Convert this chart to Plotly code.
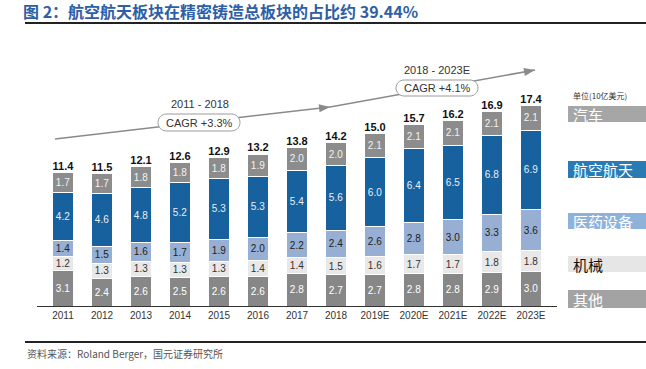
import plotly.graph_objects as go

categories = ["2011", "2012", "2013", "2014", "2015", "2016", "2017", "2018",
              "2019E", "2020E", "2021E", "2022E", "2023E"]
other = [3.1, 2.4, 2.6, 2.5, 2.6, 2.6, 2.8, 2.7, 2.7, 2.8, 2.8, 2.9, 3.0]
machinery = [1.2, 1.3, 1.3, 1.3, 1.3, 1.4, 1.4, 1.5, 1.6, 1.7, 1.7, 1.8, 1.8]
medical = [1.4, 1.5, 1.6, 1.7, 1.9, 2.0, 2.2, 2.4, 2.6, 2.8, 3.0, 3.3, 3.6]
aerospace = [4.2, 4.6, 4.8, 5.2, 5.3, 5.3, 5.4, 5.6, 6.0, 6.4, 6.5, 6.8, 6.9]
auto = [1.7, 1.7, 1.8, 1.8, 1.8, 1.9, 2.0, 2.0, 2.1, 2.1, 2.1, 2.1, 2.1]
totals = [11.4, 11.5, 12.1, 12.6, 12.9, 13.2, 13.8, 14.2, 15.0, 15.7, 16.2, 16.9, 17.4]

series_names = ["其他", "机械", "医药设备", "航空航天", "汽车"]
series_values = [other, machinery, medical, aerospace, auto]

# Layout geometry (pixels)
W_PX, H_PX = 646, 369
L, R, T, B = 37, 557, 74, 306
PW, PH = R - L, B - T

def px(x):
    return (x - L) / PW

def py(y):
    return (B - y) / PH

FONT = "Liberation Sans, Arial, Noto Sans CJK SC"
CJK = "Noto Sans CJK SC, Liberation Sans"

bar_colors = ["#878787", "#e8e8e8", "#96afd3", "#17629e", "#8c8c8c"]
text_colors = ["#ffffff", "#333333", "#222222", "#e8eef6", "#f2f2f2"]

fig = go.Figure()
for name, vals, c, tc in zip(series_names, series_values, bar_colors, text_colors):
    fig.add_trace(go.Bar(
        x=categories, y=vals, name=name,
        marker=dict(color=c, line=dict(color="white", width=1)),
        width=0.56,
        text=[f"{v:.1f}" for v in vals],
        textposition="inside", insidetextanchor="middle",
        textangle=0, constraintext="none",
        textfont=dict(family=FONT, size=10, color=tc),
        hoverinfo="skip",
    ))

stack_tops = [sum(s[i] for s in series_values) for i in range(len(categories))]
fig.add_trace(go.Scatter(
    x=categories, y=stack_tops, mode="text",
    text=[f"<b>{v:.1f}</b>" for v in totals],
    textposition="top center",
    textfont=dict(family=FONT, size=11, color="#111111"),
    hoverinfo="skip", cliponaxis=False,
))

shapes = []
annotations = []

# Title and rules
annotations.append(dict(xref="paper", yref="paper", x=px(21), y=py(11),
    xanchor="left", yanchor="middle", showarrow=False,
    text="<b>图 2：航空航天板块在精密铸造总板块的占比约 39.44%</b>",
    font=dict(family=CJK, size=16, color="#2d5ea6")))
shapes.append(dict(type="line", xref="paper", yref="paper",
    x0=px(25), x1=px(660), y0=py(23), y1=py(23),
    line=dict(color="#222222", width=2)))
shapes.append(dict(type="line", xref="paper", yref="paper",
    x0=px(25), x1=px(660), y0=py(342), y1=py(342),
    line=dict(color="#222222", width=2)))
annotations.append(dict(xref="paper", yref="paper", x=px(25), y=py(353),
    xanchor="left", yanchor="middle", showarrow=False,
    text="资料来源：Roland Berger，国元证券研究所",
    font=dict(family=CJK, size=10, color="#555555")))

# Growth arrows
ARROW = "#8a8a8a"
def arrow(x0, y0, x1, y1):
    shapes.append(dict(type="line", xref="paper", yref="paper",
        x0=px(x0), y0=py(y0), x1=px(x1), y1=py(y1),
        line=dict(color=ARROW, width=1.5)))
    dx, dy = x1 - x0, y1 - y0
    n = (dx * dx + dy * dy) ** 0.5
    ux, uy = dx / n, dy / n
    bx, by = x1 - 11 * ux, y1 - 11 * uy
    nx, ny = -uy, ux
    pts = [(x1, y1), (bx + 4 * nx, by + 4 * ny), (bx - 4 * nx, by - 4 * ny)]
    path = "M {} {} L {} {} L {} {} Z".format(*[v for p in pts for v in (px(p[0]), py(p[1]))])
    shapes.append(dict(type="path", xref="paper", yref="paper", path=path,
        fillcolor=ARROW, line=dict(color=ARROW, width=0)))

arrow(55, 139, 330, 107)
arrow(330, 107, 535, 70)

def capsule(x0, y0, x1, y1):
    r = (y1 - y0) / 2
    k = 0.5523 * r
    p = "M {} {} ".format(px(x0 + r), py(y0))
    p += "L {} {} ".format(px(x1 - r), py(y0))
    p += "C {} {} {} {} {} {} ".format(px(x1 - r + k), py(y0), px(x1), py(y0 + r - k), px(x1), py(y0 + r))
    p += "C {} {} {} {} {} {} ".format(px(x1), py(y0 + r + k), px(x1 - r + k), py(y1), px(x1 - r), py(y1))
    p += "L {} {} ".format(px(x0 + r), py(y1))
    p += "C {} {} {} {} {} {} ".format(px(x0 + r - k), py(y1), px(x0), py(y1 - r + k), px(x0), py(y1 - r))
    p += "C {} {} {} {} {} {} Z".format(px(x0), py(y0 + r - k), px(x0 + r - k), py(y0), px(x0 + r), py(y0))
    shapes.append(dict(type="path", xref="paper", yref="paper", path=p,
        fillcolor="white", line=dict(color="#9a9a9a", width=1)))

capsule(158, 114, 240, 131)
capsule(396, 80, 478, 96)

for txt, x, y in [("2011 - 2018", 200, 104), ("CAGR +3.3%", 199, 122.5),
                  ("2018 - 2023E", 437, 70), ("CAGR +4.1%", 437, 88)]:
    annotations.append(dict(xref="paper", yref="paper", x=px(x), y=py(y),
        xanchor="center", yanchor="middle", showarrow=False, text=txt,
        font=dict(family=FONT, size=11, color="#333333")))

# Right-hand legend blocks
annotations.append(dict(xref="paper", yref="paper", x=px(571), y=py(95),
    xanchor="left", yanchor="middle", showarrow=False, text="单位(10亿美元)",
    font=dict(family=CJK, size=8, color="#333333")))
legend_items = [("汽车", 106, 122, "#a6a6a6", "#ffffff"),
                ("航空航天", 161, 178, "#2a7ab3", "#ffffff"),
                ("医药设备", 213, 229, "#8fb2db", "#ffffff"),
                ("机械", 256, 272, "#e6e6e6", "#111111"),
                ("其他", 290, 308, "#a3a3a3", "#ffffff")]
for name, y0, y1, fc, tc in legend_items:
    shapes.append(dict(type="rect", xref="paper", yref="paper",
        x0=px(568), x1=px(660), y0=py(y1), y1=py(y0),
        fillcolor=fc, line=dict(width=0)))
    annotations.append(dict(xref="paper", yref="paper", x=px(571), y=py((y0 + y1) / 2),
        xanchor="left", yanchor="middle", showarrow=False, text=name,
        font=dict(family=CJK, size=15, color=tc)))

fig.update_layout(
    width=W_PX, height=H_PX,
    margin=dict(l=L, r=W_PX - R, t=T, b=H_PX - B, pad=0),
    barmode="stack", bargap=0.44,
    plot_bgcolor="white", paper_bgcolor="white",
    showlegend=False,
    shapes=shapes, annotations=annotations,
    xaxis=dict(type="category", showline=True, linecolor="#333333", linewidth=1,
               ticks="", showgrid=False, fixedrange=True,
               tickfont=dict(family=FONT, size=10, color="#333333")),
    yaxis=dict(range=[0, PH / 11.5], visible=False, showgrid=False, fixedrange=True),
)

fig.write_html(
    "out.html",
    config={"displayModeBar": False},
    post_script="document.body.style.margin='0';document.body.style.overflow='hidden';",
)
